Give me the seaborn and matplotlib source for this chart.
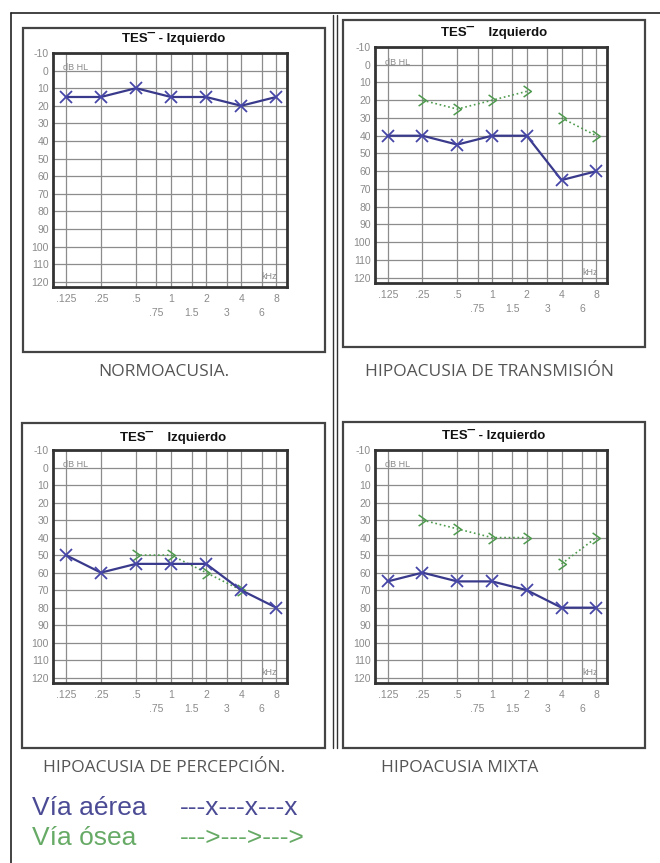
import numpy as np
import pandas as pd
import seaborn as sns
import matplotlib.pyplot as plt
from matplotlib.lines import Line2D
from matplotlib.patches import Rectangle
from matplotlib.path import Path
from matplotlib.ticker import FixedLocator, FixedFormatter

# audiometric frequencies (kHz)
freqs = [0.125, 0.25, 0.5, 1, 2, 4, 8]
major_labels = [".125", ".25", ".5", "1", "2", "4", "8"]
minor_freqs = [0.75, 1.5, 3, 6]
minor_labels = [".75", "1.5", "3", "6"]
db_ticks = list(range(-10, 130, 10))

# via aerea (dB HL)
normo_air = [15, 15, 10, 15, 15, 20, 15]
trans_air = [40, 40, 45, 40, 40, 65, 60]
percep_air = [50, 60, 55, 55, 55, 70, 80]
mixta_air = [65, 60, 65, 65, 70, 80, 80]

# via osea (dB HL), seg = tramo de linea punteada
trans_bone_freqs = [0.25, 0.5, 1, 2, 4, 8]
trans_bone = [20, 25, 20, 15, 30, 40]
trans_bone_seg = [0, 0, 0, 0, 1, 1]
percep_bone_freqs = [0.5, 1, 2, 4]
percep_bone = [50, 50, 60, 70]
percep_bone_seg = [0, 0, 0, 0]
mixta_bone_freqs = [0.25, 0.5, 1, 2, 4, 8]
mixta_bone = [30, 35, 40, 40, 55, 40]
mixta_bone_seg = [0, 0, 0, 0, 1, 1]

titles = ["TES¯ - Izquierdo", "TES¯    Izquierdo", "TES¯    Izquierdo", "TES¯ - Izquierdo"]
captions = ["NORMOACUSIA.", "HIPOACUSIA DE TRANSMISIÓN",
            "HIPOACUSIA DE PERCEPCIÓN.", "HIPOACUSIA MIXTA"]

AIR = "#3a3a8c"
BONE = "#4e9a4e"

sns.set_style("white")
plt.rcParams['font.family'] = ['Liberation Sans', 'DejaVu Sans']

W, H = 660, 863
fig = plt.figure(figsize=(6.6, 8.63), dpi=100)


def fx(x):
    return x / W


def fy(y):
    return 1 - y / H


def fig_line(xs, ys, **kw):
    fig.add_artist(Line2D([fx(x) for x in xs], [fy(y) for y in ys],
                          transform=fig.transFigure, **kw))


def fig_box(x0, y0, x1, y1, **kw):
    fig.add_artist(Rectangle((fx(x0), fy(y1)), fx(x1) - fx(x0), fy(y0) - fy(y1),
                             transform=fig.transFigure, fill=False, **kw))


# outer frame and divider
fig_line([11, 660], [13, 13], color="#222222", lw=1.2)
fig_line([11, 11], [13, 863], color="#222222", lw=1.2)
fig_line([333.5, 333.5], [15, 748], color="#333333", lw=1.0)
fig_line([336.5, 336.5], [15, 748], color="#333333", lw=1.0)

chevron = Path([(-0.7, 1.0), (0.7, 0.0), (-0.7, -1.0)],
               [Path.MOVETO, Path.LINETO, Path.LINETO])

# box, plot area (pixels), title y, caption x/y/ha
panels = [
    dict(box=(23, 28, 325, 352), plot=(53, 53, 287, 287), ty=38, cx=164, cy=372, ha="center",
         air=normo_air, bf=None, bone=None, seg=None),
    dict(box=(343, 20, 645, 347), plot=(375, 47, 607, 283), ty=32, cx=489, cy=372, ha="center",
         air=trans_air, bf=trans_bone_freqs, bone=trans_bone, seg=trans_bone_seg),
    dict(box=(22, 423, 325, 748), plot=(53, 450, 287, 683), ty=437, cx=164, cy=768, ha="center",
         air=percep_air, bf=percep_bone_freqs, bone=percep_bone, seg=percep_bone_seg),
    dict(box=(343, 422, 645, 748), plot=(375, 450, 607, 683), ty=435, cx=381, cy=768, ha="left",
         air=mixta_air, bf=mixta_bone_freqs, bone=mixta_bone, seg=mixta_bone_seg),
]

for i, p in enumerate(panels):
    bx0, by0, bx1, by1 = p["box"]
    fig_box(bx0, by0, bx1, by1, edgecolor="#444444", lw=1.6)
    fig.text(fx((bx0 + bx1) / 2), fy(p["ty"]), titles[i], ha="center", va="center",
             fontsize=9.5, fontweight="bold", color="#111111")
    fig.text(fx(p["cx"]), fy(p["cy"]), captions[i], ha=p["ha"], va="center",
             fontsize=12.5, color="#555555", family=["Open Sans", "DejaVu Sans"])

    x0, y0, x1, y1 = p["plot"]
    ax = fig.add_axes([fx(x0), fy(y1), fx(x1) - fx(x0), fy(y0) - fy(y1)])
    ax.set_xscale("log")

    if p["bone"] is not None:
        df_bone = pd.DataFrame({"f": p["bf"], "db": p["bone"], "seg": p["seg"]})
        sns.lineplot(data=df_bone, x="f", y="db", units="seg", estimator=None, ax=ax,
                     color=BONE, lw=1.2, linestyle=":", marker=chevron, markersize=8,
                     markerfacecolor="none", markeredgecolor=BONE, markeredgewidth=1.1,
                     legend=False, zorder=3)

    df_air = pd.DataFrame({"f": freqs, "db": p["air"]})
    sns.lineplot(data=df_air, x="f", y="db", ax=ax, color=AIR, lw=1.6,
                 marker="x", markersize=8, markeredgewidth=1.3, markeredgecolor="#4646a8",
                 legend=False, zorder=4)

    ax.set_xlim(0.097, 9.9)
    ax.set_ylim(123, -10)
    ax.xaxis.set_major_locator(FixedLocator(freqs))
    ax.xaxis.set_major_formatter(FixedFormatter(major_labels))
    ax.xaxis.set_minor_locator(FixedLocator(minor_freqs))
    ax.xaxis.set_minor_formatter(FixedFormatter(minor_labels))
    ax.set_yticks(db_ticks)
    ax.set_yticklabels([str(v) for v in db_ticks])
    ax.tick_params(axis="both", which="both", length=0, labelsize=7.5, labelcolor="#8a8a8a")
    ax.tick_params(axis="x", which="major", pad=5)
    ax.tick_params(axis="x", which="minor", pad=15)
    ax.tick_params(axis="y", pad=3)
    ax.grid(True, which="both", axis="x", color="#8c8c8c", lw=0.9)
    ax.grid(True, which="major", axis="y", color="#8c8c8c", lw=0.9)
    ax.set_xlabel("")
    ax.set_ylabel("")
    for sp in ax.spines.values():
        sp.set_visible(True)
        sp.set_color("#333333")
        sp.set_linewidth(2)
    ax.text(0.118, -1.5, "dB HL", fontsize=6.5, color="#8a8a8a", va="center", ha="left")
    ax.text(6.0, 117, "kHz", fontsize=6.5, color="#8a8a8a", va="center", ha="left")

# leyenda
fig.text(fx(32), fy(808), "Vía aérea", fontsize=19, color="#4b4b95", va="center", ha="left")
fig.text(fx(180), fy(808), "---x---x---x", fontsize=19, color="#4b4b95", va="center", ha="left")
fig.text(fx(32), fy(838), "Vía ósea", fontsize=19, color="#66aa66", va="center", ha="left")
fig.text(fx(180), fy(838), "--->--->--->", fontsize=19, color="#66aa66", va="center", ha="left")

fig.savefig("out.png", dpi=100, facecolor="white")
